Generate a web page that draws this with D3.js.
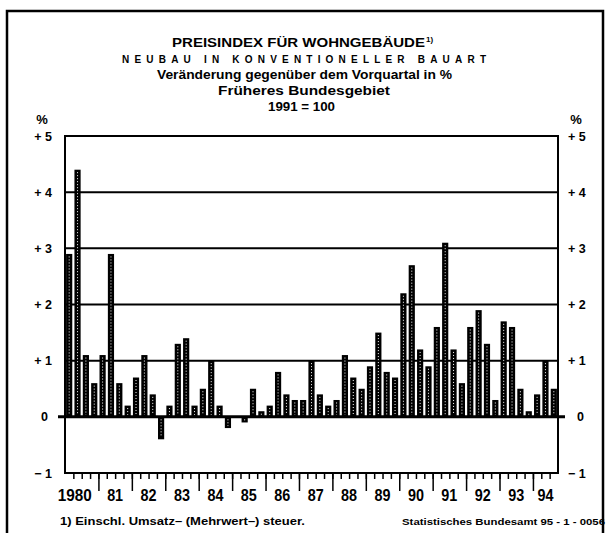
<!DOCTYPE html>
<html>
<head>
<meta charset="utf-8">
<script src="https://cdn.jsdelivr.net/npm/d3@7"></script>
<style>
  body { margin: 0; background: #fff; }
  svg { display: block; }
  text { font-family: "Liberation Sans", Arial, sans-serif; font-weight: bold; fill: #000; }
</style>
</head>
<body>
<script>
// Quarterly change of the price index (in %), 1980 Q1 .. 1994 Q3
var years = ["1980", "81", "82", "83", "84", "85", "86", "87", "88", "89", "90", "91", "92", "93", "94"];
var values = [
  2.9, 4.4, 1.1, 0.6,   // 1980
  1.1, 2.9, 0.6, 0.2,   // 1981
  0.7, 1.1, 0.4, -0.4,  // 1982
  0.2, 1.3, 1.4, 0.2,   // 1983
  0.5, 1.0, 0.2, -0.2,  // 1984
  0.0, -0.1, 0.5, 0.1,  // 1985
  0.2, 0.8, 0.4, 0.3,   // 1986
  0.3, 1.0, 0.4, 0.2,   // 1987
  0.3, 1.1, 0.7, 0.5,   // 1988
  0.9, 1.5, 0.8, 0.7,   // 1989
  2.2, 2.7, 1.2, 0.9,   // 1990
  1.6, 3.1, 1.2, 0.6,   // 1991
  1.6, 1.9, 1.3, 0.3,   // 1992
  1.7, 1.6, 0.5, 0.1,   // 1993
  0.4, 1.0, 0.5         // 1994
];
var yTicks = [-1, 0, 1, 2, 3, 4, 5];
var yTickLabels = ["\u2212 1", "0", "+ 1", "+ 2", "+ 3", "+ 4", "+ 5"];

var width = 610, height = 533;
var plotLeft = 65, plotRight = 558, plotTop = 136, plotBottom = 473;

var svg = d3.select("body").append("svg")
  .attr("width", width)
  .attr("height", height);

// outer frame
svg.append("path")
  .attr("class", "frame")
  .attr("d", "M7,533 L7,11 L603,11 L603,533")
  .attr("fill", "none")
  .attr("stroke", "#000")
  .attr("stroke-width", 2.5);

// titles
svg.append("text").attr("x", 172).attr("y", 47)
  .attr("font-size", 12.5).attr("textLength", 253).attr("lengthAdjust", "spacingAndGlyphs")
  .text("PREISINDEX FÜR WOHNGEBÄUDE");
svg.append("text").attr("x", 426).attr("y", 42).attr("font-size", 8).text("1)");
svg.append("text").attr("x", 122).attr("y", 63)
  .attr("font-size", 10).attr("textLength", 364).attr("lengthAdjust", "spacing")
  .text("NEUBAU IN KONVENTIONELLER BAUART");
svg.append("text").attr("x", 157).attr("y", 79)
  .attr("font-size", 12).attr("textLength", 295).attr("lengthAdjust", "spacingAndGlyphs")
  .text("Veränderung gegenüber dem Vorquartal in %");
svg.append("text").attr("x", 218).attr("y", 95)
  .attr("font-size", 12).attr("textLength", 172).attr("lengthAdjust", "spacingAndGlyphs")
  .text("Früheres  Bundesgebiet");
svg.append("text").attr("x", 268).attr("y", 111)
  .attr("font-size", 12).attr("textLength", 67).attr("lengthAdjust", "spacingAndGlyphs")
  .text("1991 = 100");

svg.append("text").attr("x", 42).attr("y", 124).attr("font-size", 13).attr("text-anchor", "middle").text("%");
svg.append("text").attr("x", 576).attr("y", 124).attr("font-size", 13).attr("text-anchor", "middle").text("%");

// scales
var keys = values.map(function(d, i) { return years[Math.floor(i / 4)] + "-" + (i % 4 + 1); });

var x = d3.scaleBand()
  .domain(keys)
  .range([plotLeft, plotRight])
  .paddingInner(0.26)
  .paddingOuter(0.13);

var xIdx = d3.scaleLinear()
  .domain([0, values.length])
  .range([plotLeft, plotRight]);

var y = d3.scaleLinear()
  .domain([-1, 5])
  .range([plotBottom, plotTop]);

// gridlines
svg.append("g")
  .attr("class", "grid")
  .selectAll("line")
  .data([1, 2, 3, 4])
  .enter()
  .append("line")
  .attr("x1", plotLeft).attr("x2", plotRight)
  .attr("y1", function(d) { return y(d); })
  .attr("y2", function(d) { return y(d); })
  .attr("stroke", "#000")
  .attr("stroke-width", 2);

// plot box
svg.append("rect")
  .attr("x", plotLeft).attr("y", y(5))
  .attr("width", plotRight - plotLeft).attr("height", y(-1) - y(5))
  .attr("fill", "none")
  .attr("stroke", "#000")
  .attr("stroke-width", 2);

// bars
var bars = svg.append("g").attr("class", "bars")
  .selectAll("g")
  .data(values)
  .enter()
  .append("g");

bars.append("rect")
  .attr("x", function(d, i) { return x(keys[i]); })
  .attr("y", function(d) { return y(Math.max(0, d)); })
  .attr("width", x.bandwidth())
  .attr("height", function(d) { return Math.abs(y(d) - y(0)); })
  .attr("fill", "#000");

bars.append("line")
  .attr("x1", function(d, i) { return x(keys[i]) + x.bandwidth() / 2; })
  .attr("x2", function(d, i) { return x(keys[i]) + x.bandwidth() / 2; })
  .attr("y1", function(d) { return Math.min(y(d), y(0)) + 2.5; })
  .attr("y2", function(d) { return Math.max(y(d), y(0)) - 2; })
  .attr("stroke", "#fff")
  .attr("stroke-width", 1)
  .attr("stroke-dasharray", "1,2");

// zero line
svg.append("line")
  .attr("x1", plotLeft - 7).attr("x2", plotRight + 7)
  .attr("y1", y(0)).attr("y2", y(0))
  .attr("stroke", "#000")
  .attr("stroke-width", 3);

// x axis: quarter ticks and longer year ticks
var xAxisShort = d3.axisBottom(xIdx)
  .tickValues(d3.range(1, values.length))
  .tickSize(6)
  .tickFormat("");

var yearStarts = years.slice(1).map(function(d, i) { return (i + 1) * 4; });
var xAxisLong = d3.axisBottom(xIdx)
  .tickValues(yearStarts)
  .tickSize(18)
  .tickFormat("");

svg.append("g")
  .attr("class", "x axis")
  .attr("transform", "translate(0," + plotBottom + ")")
  .call(xAxisShort)
  .call(function(g) { g.select(".domain").remove(); })
  .selectAll("line").attr("stroke-width", 1.5);

svg.append("g")
  .attr("class", "x axis long")
  .attr("transform", "translate(0," + plotBottom + ")")
  .call(xAxisLong)
  .call(function(g) { g.select(".domain").remove(); })
  .selectAll("line").attr("stroke-width", 1.5);

// year labels
svg.append("g")
  .selectAll("text")
  .data(years)
  .enter()
  .append("text")
  .attr("x", function(d, i) {
    var n = Math.min(4, values.length - i * 4);
    return xIdx(i * 4 + n / 2) - (i === 0 ? 7 : 0);
  })
  .attr("y", 501)
  .attr("text-anchor", "middle")
  .attr("font-size", 17)
  .attr("textLength", function(d) { return d.length === 4 ? 34 : 16; })
  .attr("lengthAdjust", "spacingAndGlyphs")
  .text(function(d) { return d; });

// y tick labels, both sides
var yLab = svg.append("g").attr("class", "y labels");
yLab.selectAll("text.l")
  .data(yTicks)
  .enter()
  .append("text")
  .attr("class", "l")
  .attr("x", function(d) { return d === 0 ? 48 : 52; })
  .attr("y", function(d) { return y(d) + 4.5; })
  .attr("text-anchor", "end")
  .attr("font-size", 12.5)
  .text(function(d, i) { return yTickLabels[i]; });

yLab.selectAll("text.r")
  .data(yTicks)
  .enter()
  .append("text")
  .attr("class", "r")
  .attr("x", function(d) { return d === 0 ? 577 : 568; })
  .attr("y", function(d) { return y(d) + 4.5; })
  .attr("text-anchor", "start")
  .attr("font-size", 12.5)
  .text(function(d, i) { return yTickLabels[i]; });

// footnote and source
svg.append("text").attr("x", 60).attr("y", 525)
  .attr("font-size", 10.5).attr("textLength", 245).attr("lengthAdjust", "spacingAndGlyphs")
  .text("1) Einschl. Umsatz\u2013 (Mehrwert\u2013) steuer.");
svg.append("text").attr("x", 402).attr("y", 525)
  .attr("font-size", 9).attr("textLength", 203).attr("lengthAdjust", "spacingAndGlyphs")
  .text("Statistisches Bundesamt 95 - 1 - 0056");
</script>
</body>
</html>
